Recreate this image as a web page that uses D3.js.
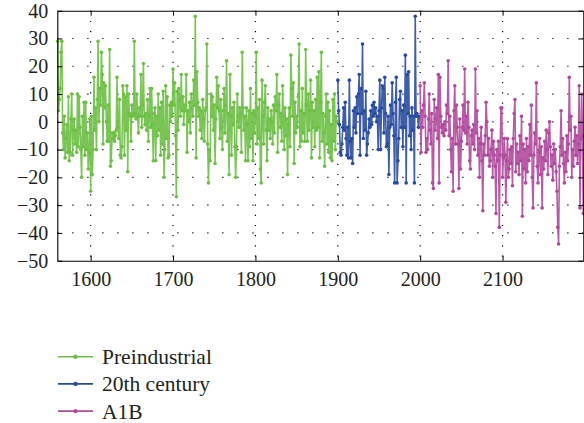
<!DOCTYPE html>
<html>
<head>
<meta charset="utf-8">
<script src="https://cdn.jsdelivr.net/npm/d3@7"></script>
<style>
	body { margin: 0; background: #fff; }
	svg { display: block; font-family: 'Liberation Serif', 'Times New Roman', serif; }
</style>
</head>
<body>
<div id="chart"></div>
<script>
// first year of each series, values one per year
var preStart = 1560,
	c20Start = 1900,
	a1bStart = 2000;

var preValues = [
	29, 4, 8, 12, 25, 29, -4, -10, 2, -13,
	-6, -1, -11, 9, -14, -11, 1, 10, -12, -3,
	1, -8, -3, -11, 10, -9, 9, -2, -10, -20,
	2, -9, 7, -12, 7, -10, -4, -17, -11, 1,
	-25, 2, -19, -10, 16, -3, 5, -10, 8, 29,
	0, 12, 6, 25, 17, -8, 14, 5, 13, 0,
	-7, 6, -7, 26, -16, -14, -4, -6, -4, -7,
	-5, -3, 16, -2, -6, 8, -12, -13, -9, 13,
	10, -12, 9, -3, 13, -18, 10, 3, 2, -7,
	6, 3, 2, 29, 3, 1, 10, 2, -4, 5,
	2, 17, -2, 6, 21, 2, -1, 3, -3, 8,
	-7, 2, 12, -2, 12, -1, -14, 3, 5, -14,
	2, -5, 10, -3, 5, -12, 7, -8, 11, -20,
	-10, 13, -6, 9, -13, -12, 6, 0, 7, 2,
	19, 6, 14, -5, -27, 11, -3, 12, 8, 2,
	17, 4, 9, -1, 6, 4, 17, -11, 4, 0,
	7, -4, 10, 5, 2, 15, 6, 38, -13, 18,
	7, 2, 5, -3, 4, -6, 8, 1, -7, 4,
	5, 28, -8, -22, -10, -14, 10, 2, 9, -3,
	6, -15, 1, 16, 5, 13, 4, -6, 8, -2,
	-10, 4, 12, -4, 6, 22, -7, 3, -19, 17,
	2, -12, 5, -1, 7, -9, -20, -9, 10, 2,
	-2, 5, 3, -11, 25, 5, -3, 2, -14, 5,
	-1, -14, 4, -9, 12, -6, 3, -14, 4, -4,
	2, 25, -8, 5, -6, 8, -17, -22, 15, 2,
	-8, 7, 13, -3, -14, 5, -3, 1, -6, 4,
	0, -8, 6, -4, 9, 4, 17, -11, 6, 10,
	-2, 3, -7, 13, 2, -10, 5, -5, 1, -19,
	-1, 5, -9, 24, 12, 2, 14, -15, 7, -4,
	2, -2, 9, 28, -9, 4, -7, 12, -4, 3,
	-7, 26, 6, -7, 10, -3, 4, 15, -13, 7,
	-2, 4, -9, 8, -3, 16, -2, 18, -13, 7,
	25, -7, 3, -4, -16, 2, 10, -8, 7, -11,
	4, -13, -1, -14, 8, -7, 10, -10, 2, 0
];

var c20Values = [
	15, 4, -1, -11, -12, -8, -2, 5, -3, 7,
	-6, -12, -2, -13, 15, -7, -13, -6, -15, 4,
	-2, 5, -4, 9, 3, 10, 17, -12, 12, 3,
	28, -6, 4, -3, 11, -12, -8, -4, 1, -2,
	4, -1, 6, 2, 7, 3, 5, 0, 2, -10,
	4, 15, -10, 5, 13, 12, -4, 16, 3, -9,
	-8, 2, -19, -2, 6, -1, 14, 3, -5, -22,
	7, 16, -22, -14, -6, 8, 11, -2, 4, -9,
	6, -2, 24, -22, 17, 3, 18, -5, 2, -10,
	5, -3, 2, -22, 38, 2, 3, 2, -2, 2
];

var a1bValues = [
	13, -11, 4, -2, 6, 14, 2, -11, -6, -10,
	1, 10, -3, -8, 3, -22, -24, 8, -3, 1,
	5, -6, 17, -22, 16, 2, -2, -4, -1, -5,
	0, -3, 6, 3, 22, -5, 2, -10, -18, -6,
	-25, 4, 13, -8, 6, -2, -8, -24, 1, -17,
	-7, -2, 6, -3, 19, -4, 2, -8, 7, -2,
	-14, -17, -5, -3, -8, -1, -10, 19, -4, 4,
	-12, -6, -20, -8, -2, -14, -32, -8, -12, -5,
	7, 0, -12, -6, -16, -14, -10, -3, -20, -7,
	-12, -16, -33, -10, -14, -7, -38, -12, 5, 5,
	-20, -13, -6, -12, -29, -14, -6, -20, -17, -10,
	-15, -9, -23, -6, 3, 8, -18, -8, -15, -11,
	-19, -5, -14, 2, -34, -8, -17, -10, -22, -6,
	-18, -9, -14, -1, -12, 6, -20, -31, -12, -4,
	-8, 14, -16, -22, -11, -6, -19, -9, -31, -13,
	-17, -7, -14, -3, -10, -19, -4, 0, -9, -16,
	-12, -21, -8, -15, -10, -18, -25, -38, -44, -16,
	-9, 4, -12, -6, -15, -22, -11, -18, -5, -14,
	-8, 16, -3, 2, -20, -10, -16, -7, -2, -12,
	-5, -15, -8, 13, -31, -6, 10, -5, -33
];

var seriesNames = ['Preindustrial', '20th century', 'A1B'];
var seriesColors = ['#6dbf45', '#2a4c9f', '#b04a9d'];
var xTicks = [1600, 1700, 1800, 1900, 2000, 2100];
var yTicks = [-50, -40, -30, -20, -10, 0, 10, 20, 30, 40];

var width = 584,
	height = 423,
	plotLeft = 57.3,
	plotRight = 583.3,
	plotTop = 10.7,
	plotBottom = 260.7;

function toPoints(start, values) {
	return values.map(function(v, i) { return {year: start + i, value: v}; });
}

var series = [
	toPoints(preStart, preValues),
	toPoints(c20Start, c20Values),
	toPoints(a1bStart, a1bValues)
];

var x = d3.scaleLinear().domain([1559.5, 2198]).range([plotLeft, plotRight]),
	y = d3.scaleLinear().domain([-50, 40]).range([plotBottom, plotTop]);

var svg = d3.select('#chart').append('svg')
	.attr('width', width)
	.attr('height', height);

// dotted grid
svg.append('g').selectAll('line')
	.data(yTicks.slice(1, -1))
	.enter().append('line')
	.attr('x1', plotLeft).attr('x2', plotRight)
	.attr('y1', function(d) { return y(d); })
	.attr('y2', function(d) { return y(d); })
	.attr('stroke', '#000')
	.attr('stroke-width', 1.2)
	.attr('stroke-dasharray', '1.2,13.8');
svg.append('g').selectAll('line')
	.data(xTicks)
	.enter().append('line')
	.attr('x1', function(d) { return x(d); })
	.attr('x2', function(d) { return x(d); })
	.attr('y1', plotTop).attr('y2', plotBottom)
	.attr('stroke', '#000')
	.attr('stroke-width', 1.2)
	.attr('stroke-dasharray', '1.2,9');

var line = d3.line()
	.x(function(d) { return x(d.year); })
	.y(function(d) { return y(d.value); });

series.forEach(function(points, i) {
	var g = svg.append('g');
	g.append('path')
		.datum(points)
		.attr('d', line)
		.attr('fill', 'none')
		.attr('stroke', seriesColors[i])
		.attr('stroke-width', 1.6)
		.attr('stroke-opacity', 0.9)
		.attr('stroke-linejoin', 'round');
	g.selectAll('circle')
		.data(points)
		.enter().append('circle')
		.attr('cx', function(d) { return x(d.year); })
		.attr('cy', function(d) { return y(d.value); })
		.attr('r', 1.8)
		.attr('fill', seriesColors[i]);
});

// axes, ticks pointing inward on all four sides
var fmt = d3.format('d');
svg.append('g')
	.attr('transform', 'translate(0,' + plotBottom + ')')
	.call(d3.axisBottom(x).tickValues(xTicks).tickFormat(fmt)
		.tickSizeInner(-5).tickSizeOuter(0).tickPadding(11));
svg.append('g')
	.attr('transform', 'translate(' + plotLeft + ',0)')
	.call(d3.axisLeft(y).tickValues(yTicks).tickFormat(fmt)
		.tickSizeInner(-5).tickSizeOuter(0).tickPadding(9));
svg.append('g')
	.attr('transform', 'translate(0,' + plotTop + ')')
	.call(d3.axisTop(x).tickValues(xTicks).tickFormat('')
		.tickSizeInner(-5).tickSizeOuter(0));
svg.append('g')
	.attr('transform', 'translate(' + plotRight + ',0)')
	.call(d3.axisRight(y).tickValues(yTicks).tickFormat('')
		.tickSizeInner(-5).tickSizeOuter(0));

svg.selectAll('.domain').attr('stroke', '#000').attr('stroke-width', 1.1);
svg.selectAll('.tick text')
	.attr('font-family', "'Liberation Serif', serif")
	.attr('font-size', 20)
	.attr('fill', '#231f20');

// legend
var legend = svg.append('g').selectAll('g')
	.data(seriesNames)
	.enter().append('g')
	.attr('transform', function(d, i) { return 'translate(58,' + (356.7 + i * 27.2) + ')'; });
legend.append('line')
	.attr('x1', 0).attr('x2', 35)
	.attr('stroke', function(d, i) { return seriesColors[i]; })
	.attr('stroke-width', 1.6);
legend.append('circle')
	.attr('cx', 17.5)
	.attr('r', 2.2)
	.attr('fill', function(d, i) { return seriesColors[i]; });
legend.append('text')
	.attr('x', 44)
	.attr('y', 7.5)
	.attr('font-size', 21.5)
	.attr('fill', '#231f20')
	.text(function(d) { return d; });
</script>
</body>
</html>
